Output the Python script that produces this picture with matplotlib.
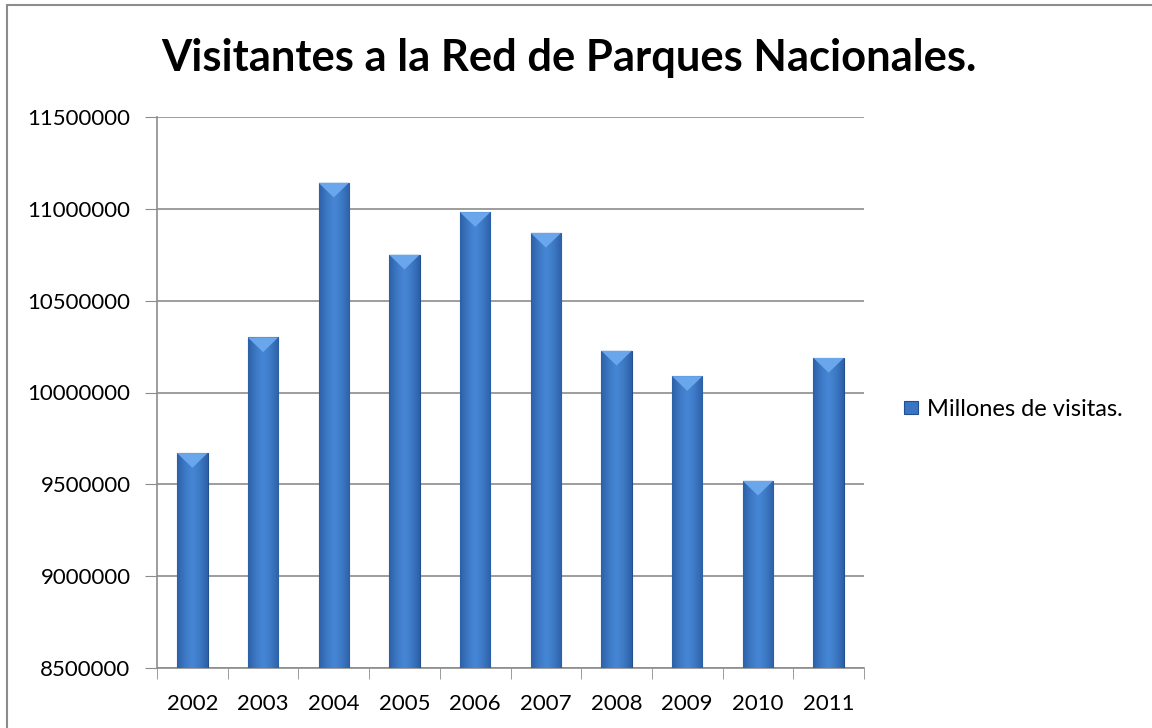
import matplotlib
matplotlib.use("Agg")
import matplotlib.pyplot as plt
from matplotlib.patches import Rectangle
import numpy as np

years = ["2002", "2003", "2004", "2005", "2006", "2007", "2008", "2009", "2010", "2011"]
visitors = [9670000, 10300000, 11142000, 10750000, 10982000,
            10869000, 10227000, 10089000, 9519000, 10188000]
series_name = "Millones de visitas."
title = "Visitantes a la Red de Parques Nacionales."
y_ticks = [8500000, 9000000, 9500000, 10000000, 10500000, 11000000, 11500000]

plt.rcParams["font.family"] = ["Lato", "DejaVu Sans"]

fig = plt.figure(figsize=(11.52, 7.28), dpi=100)
ax = fig.add_axes([157 / 1152, 60 / 728, 707 / 1152, 551 / 728])

x = np.arange(len(years))
width = 0.43
bars = ax.bar(x, visitors, width=width, color="#3a74c2",
              edgecolor="#22508e", linewidth=0.8, zorder=3)

# horizontal gradient inside each bar (darker edges, lighter middle)
grad = np.abs(np.linspace(-1, 1, 64)) ** 1.5
grad = grad.reshape(1, -1)
cmap = matplotlib.colors.LinearSegmentedColormap.from_list(
    "bar", ["#4585d3", "#2c5fa6"])
for b in bars:
    im = ax.imshow(grad, cmap=cmap, aspect="auto", zorder=3.5,
                   extent=[b.get_x(), b.get_x() + b.get_width(),
                           8500000, b.get_height()])
    im.set_clip_path(b)
    # small bevel at the top
    bx, bw, h = b.get_x(), b.get_width(), b.get_height()
    ax.fill([bx, bx + bw, bx + bw / 2], [h, h, h - 80000],
            color="#6aa6ec", zorder=4, linewidth=0)

ax.set_xlim(-0.5, len(years) - 0.5)
ax.set_ylim(8500000, 11500000)
ax.set_yticks(y_ticks)
ax.set_yticklabels([str(v) for v in y_ticks])
ax.set_xticks(x)
ax.set_xticklabels(years)
ax.set_xticks(np.arange(-0.5, len(years)), minor=True)

ax.grid(axis="y", color="#8c8c8c", linewidth=1.2, zorder=0)
for s in ["top", "right"]:
    ax.spines[s].set_visible(False)
ax.spines["left"].set_color("#8c8c8c")
ax.spines["bottom"].set_color("#8c8c8c")
ax.spines["left"].set_linewidth(1.2)
ax.spines["bottom"].set_linewidth(1.2)
ax.tick_params(axis="y", length=9, color="#8c8c8c", labelsize=16, pad=10)
ax.tick_params(axis="x", which="major", length=0, labelsize=16, pad=19)
ax.tick_params(axis="x", which="minor", length=8, color="#8c8c8c")

fig.text(0.494, 0.921, title, ha="center", va="center",
         fontsize=31.3, fontweight="bold")

# legend
fig.patches.append(Rectangle((904 / 1152, 1 - 414 / 728), 14 / 1152, 13 / 728,
                             transform=fig.transFigure, facecolor="#3a74c2",
                             edgecolor="#22508e", linewidth=0.8))
fig.text(927 / 1152, 1 - 409 / 728, series_name, ha="left", va="center",
         fontsize=17)

# outer chart border
fig.patches.append(Rectangle((7 / 1152, -0.1), 1.2, 1 - 5 / 728 + 0.1,
                             transform=fig.transFigure, fill=False,
                             edgecolor="#8c8c8c", linewidth=1.5))

fig.savefig("out.png", dpi=100, facecolor="white")
